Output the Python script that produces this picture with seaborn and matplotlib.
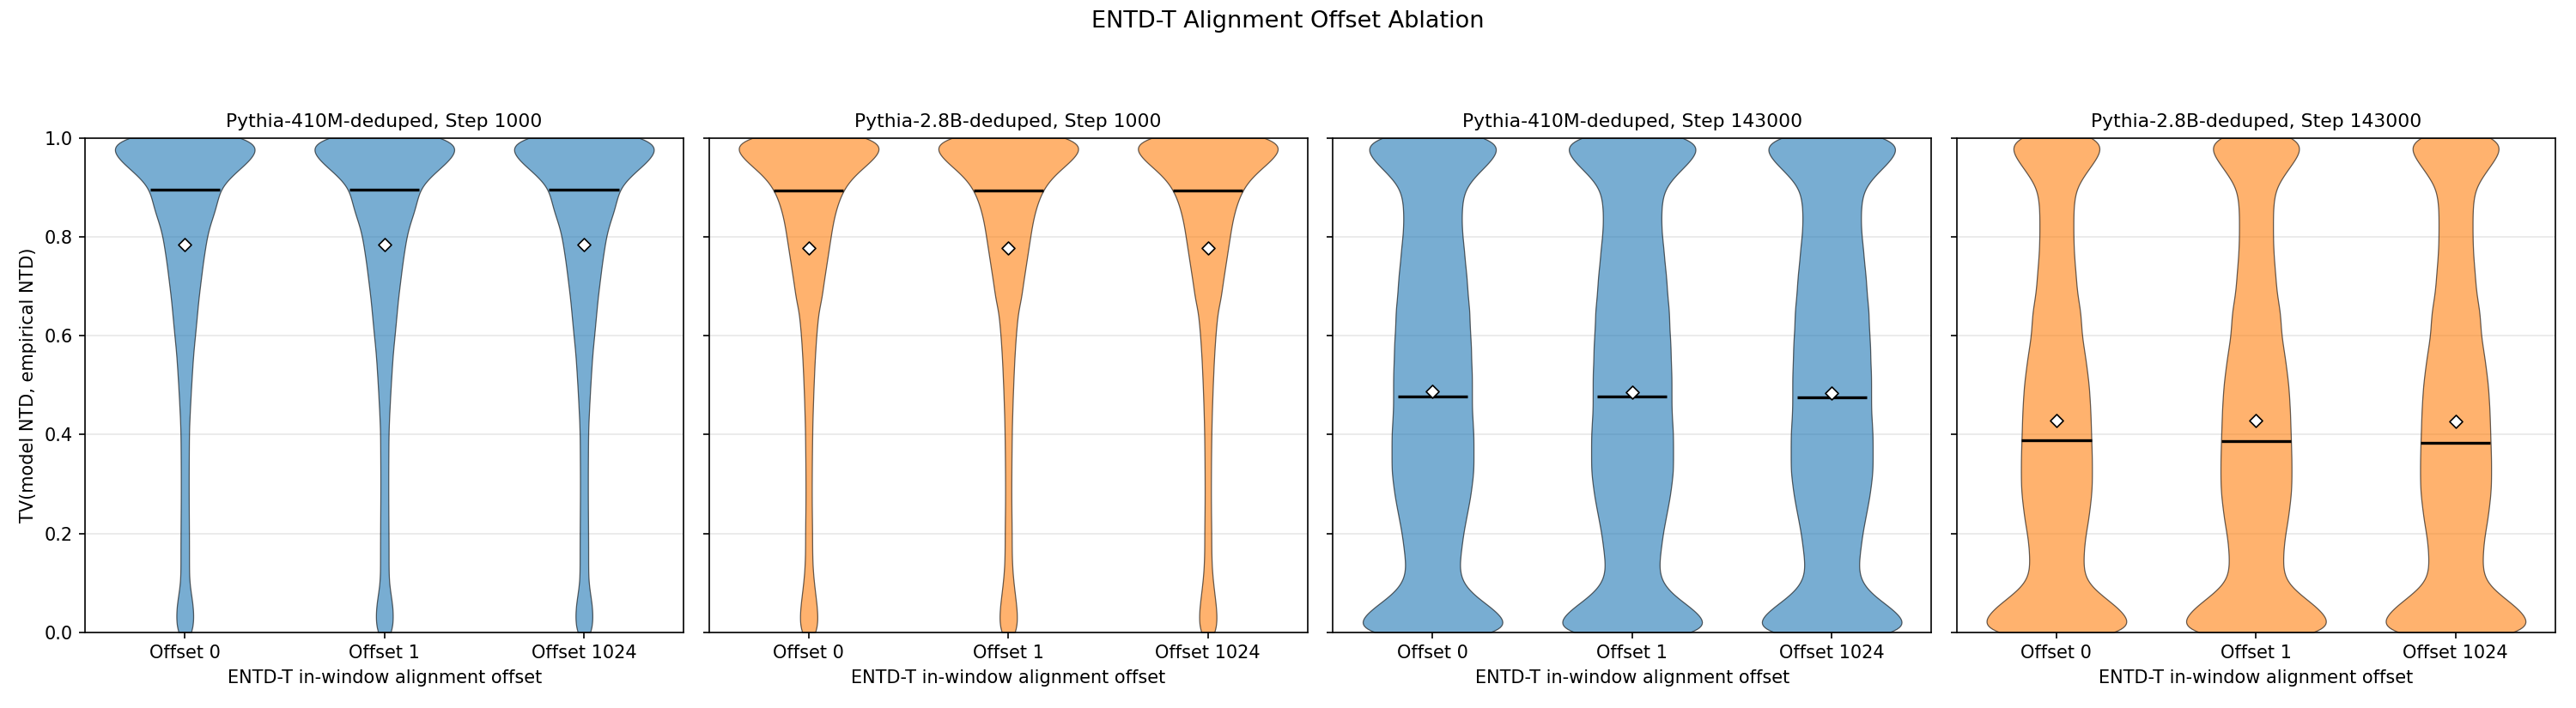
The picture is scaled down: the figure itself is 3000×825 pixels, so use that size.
#!/usr/bin/env python3
"""ENTD-T alignment offset ablation: TV distance violins per model / checkpoint."""

import numpy as np
import pandas as pd
import seaborn as sns
from matplotlib import pyplot as plt

# ---- data ----
PANEL_MODELS = ["Pythia-410M-deduped", "Pythia-2.8B-deduped", "Pythia-410M-deduped", "Pythia-2.8B-deduped"]
PANEL_STEPS = [1000, 1000, 143000, 143000]
OFFSET_LABELS = ["Offset 0", "Offset 1", "Offset 1024"]

# TV values are binned on a 0.025 grid; counts give the per-bin frequency
TV_GRID = [round(0.025 * i, 3) for i in range(41)]
COUNTS_410M_1000 = [100, 115, 110, 85, 60, 56, 56, 56, 55, 54, 53, 52, 52, 52, 53, 54, 55, 60, 68, 76,
                    85, 95, 105, 118, 135, 150, 165, 180, 200, 220, 240, 265, 290, 330, 390, 430, 470, 620,
                    820, 970, 930]
COUNTS_28B_1000 = [105, 120, 110, 90, 70, 55, 48, 46, 46, 44, 42, 41, 41, 42, 43, 45, 47, 50, 55, 60,
                   66, 73, 80, 90, 100, 115, 130, 170, 190, 215, 240, 265, 290, 315, 350, 400, 470, 600,
                   800, 970, 960]
COUNTS_410M_143000 = [950, 930, 750, 520, 380, 340, 350, 370, 390, 420, 450, 480, 500, 520, 520, 520, 520,
                      510, 500, 500, 500, 500, 490, 490, 480, 470, 470, 450, 440, 430, 410, 400, 380, 370,
                      370, 380, 420, 550, 720, 850, 820]
COUNTS_28B_143000 = [950, 950, 800, 580, 400, 350, 350, 360, 380, 410, 430, 450, 460, 460, 460, 455, 450,
                     445, 440, 430, 420, 400, 380, 355, 330, 320, 310, 280, 260, 250, 235, 225, 220, 220,
                     220, 230, 260, 360, 480, 590, 580]
PANEL_COUNTS = [COUNTS_410M_1000, COUNTS_28B_1000, COUNTS_410M_143000, COUNTS_28B_143000]

# summary statistics per panel, one value per offset
MEDIANS = [
    [0.896, 0.895, 0.895],
    [0.894, 0.894, 0.893],
    [0.477, 0.477, 0.475],
    [0.389, 0.387, 0.384],
]
MEANS = [
    [0.784, 0.784, 0.784],
    [0.777, 0.777, 0.777],
    [0.488, 0.485, 0.484],
    [0.429, 0.429, 0.426],
]

MODEL_COLORS = {"Pythia-410M-deduped": "#1f77b4", "Pythia-2.8B-deduped": "#ff7f0e"}
KDE_BW = 0.018  # absolute kernel width in TV units


def panel_frame(counts):
    """Expand binned counts into a long-form frame, one block per offset."""
    values = np.repeat(np.asarray(TV_GRID), counts)
    frames = [pd.DataFrame({"offset": lab, "tv": values}) for lab in OFFSET_LABELS]
    return pd.concat(frames, ignore_index=True)


def main():
    fig, axes = plt.subplots(1, 4, figsize=(20, 5.5), dpi=150, sharey=True)
    fig.subplots_adjust(left=0.033, right=0.992, top=0.805, bottom=0.107, wspace=0.042)

    positions = np.arange(len(OFFSET_LABELS))
    for i, ax in enumerate(axes):
        df = panel_frame(PANEL_COUNTS[i])
        color = MODEL_COLORS[PANEL_MODELS[i]]
        bw = KDE_BW / df["tv"].std()
        sns.violinplot(
            data=df, x="offset", y="tv", order=OFFSET_LABELS, ax=ax,
            color=color, saturation=1, cut=0, inner=None, density_norm="width",
            width=0.7, bw_method=bw, gridsize=300,
            linecolor="black", linewidth=0.6, alpha=0.6,
        )
        ax.hlines(MEDIANS[i], positions - 0.175, positions + 0.175, color="black", lw=1.6, zorder=3)
        ax.scatter(positions, MEANS[i], marker="D", s=26, facecolor="white",
                   edgecolor="black", linewidth=0.8, zorder=4)

        ax.set_xlim(-0.5, 2.5)
        ax.set_ylim(0, 1)
        ax.set_yticks(np.arange(0, 1.01, 0.2))
        ax.yaxis.grid(True, color="#b0b0b0", alpha=0.3, linewidth=0.8)
        ax.set_axisbelow(True)
        ax.set_title(f"{PANEL_MODELS[i]}, Step {PANEL_STEPS[i]}", fontsize=10.5)
        ax.set_xlabel("ENTD-T in-window alignment offset")
        ax.set_ylabel("TV(model NTD, empirical NTD)" if i == 0 else "")

    fig.suptitle("ENTD-T Alignment Offset Ablation", fontsize=13, y=0.985)
    fig.savefig("out.png", dpi=150)
    plt.close(fig)


if __name__ == "__main__":
    main()
